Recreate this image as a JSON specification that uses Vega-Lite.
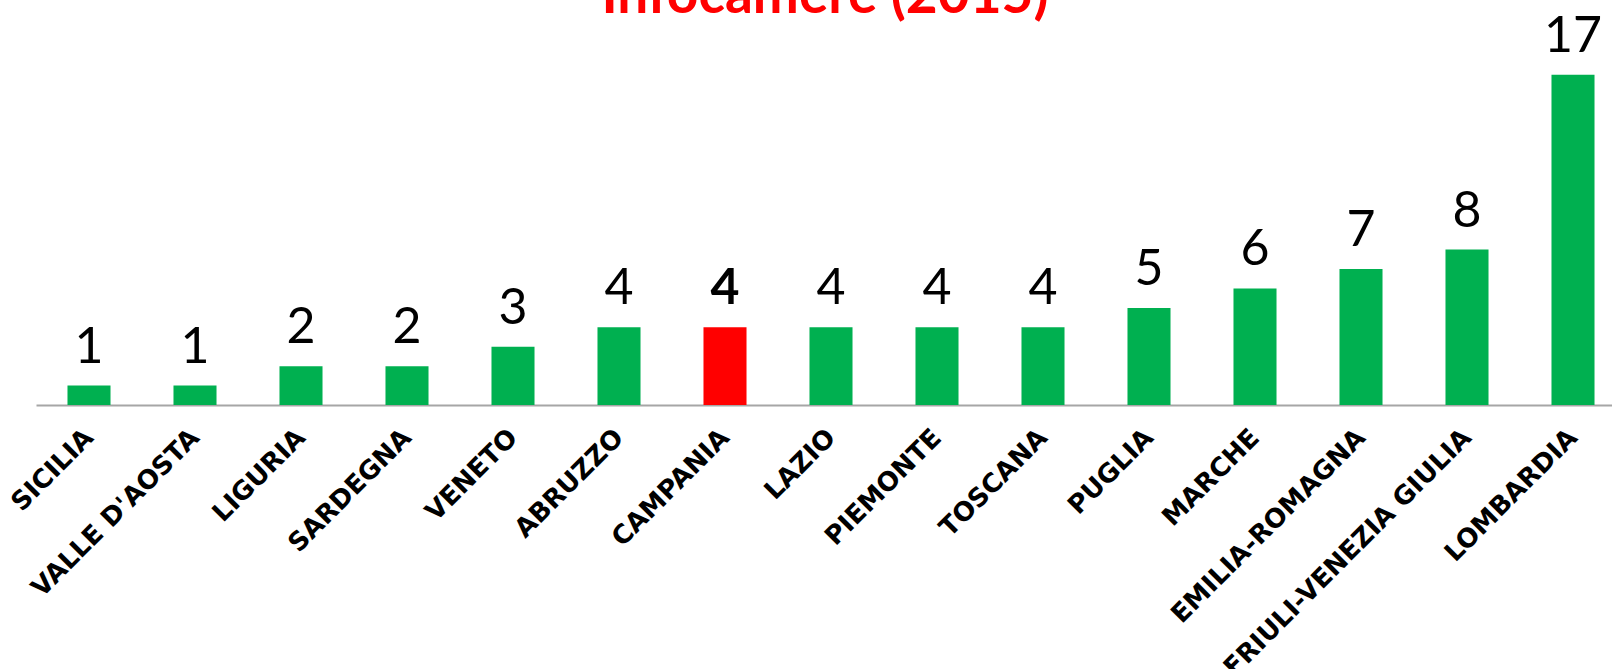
{
  "$schema": "https://vega.github.io/schema/vega-lite/v6.json",
  "width": 1590,
  "height": 405,
  "autosize": {"type": "none"},
  "padding": {"left": 36, "top": 0, "right": -14, "bottom": 264},
  "background": "white",
  "title": {
    "text": "Infocamere (2015)",
    "color": "#FF0000",
    "font": "Lato",
    "fontWeight": "bold",
    "fontSize": 55,
    "anchor": "middle",
    "offset": -25,
    "dx": -6
  },
  "data": {
    "values": [
      {"region": "SICILIA", "value": 1},
      {"region": "VALLE D'AOSTA", "value": 1},
      {"region": "LIGURIA", "value": 2},
      {"region": "SARDEGNA", "value": 2},
      {"region": "VENETO", "value": 3},
      {"region": "ABRUZZO", "value": 4},
      {"region": "CAMPANIA", "value": 4},
      {"region": "LAZIO", "value": 4},
      {"region": "PIEMONTE", "value": 4},
      {"region": "TOSCANA", "value": 4},
      {"region": "PUGLIA", "value": 5},
      {"region": "MARCHE", "value": 6},
      {"region": "EMILIA-ROMAGNA", "value": 7},
      {"region": "FRIULI-VENEZIA GIULIA", "value": 8},
      {"region": "LOMBARDIA", "value": 17}
    ]
  },
  "encoding": {
    "x": {
      "field": "region",
      "type": "nominal",
      "sort": null,
      "scale": {"paddingInner": 0.594, "paddingOuter": 0.297},
      "axis": {
        "title": null,
        "ticks": false,
        "domainColor": "#A6A6A6",
        "domainWidth": 2,
        "labelAngle": -45,
        "labelFont": "DejaVu Sans",
        "labelFontWeight": "bold",
        "labelFontSize": 26,
        "labelColor": "black",
        "labelPadding": 19,
        "labelOffset": -9,
        "labelOverlap": false,
        "labelLimit": 0
      }
    },
    "y": {
      "field": "value",
      "type": "quantitative",
      "scale": {"domain": [0, 20.85], "nice": false},
      "axis": null
    }
  },
  "layer": [
    {
      "mark": {"type": "bar"},
      "encoding": {
        "color": {
          "condition": {"test": "datum.region === 'CAMPANIA'", "value": "#FF0000"},
          "value": "#00B050"
        }
      }
    },
    {
      "transform": [{"filter": "datum.region !== 'CAMPANIA'"}],
      "mark": {"type": "text", "baseline": "alphabetic", "dy": -23, "font": "Lato", "fontSize": 50, "color": "black"},
      "encoding": {"text": {"field": "value", "type": "quantitative"}}
    },
    {
      "transform": [{"filter": "datum.region === 'CAMPANIA'"}],
      "mark": {"type": "text", "baseline": "alphabetic", "dy": -23, "font": "Lato", "fontWeight": "bold", "fontSize": 50, "color": "black"},
      "encoding": {"text": {"field": "value", "type": "quantitative"}}
    }
  ],
  "config": {"view": {"stroke": null}}
}
